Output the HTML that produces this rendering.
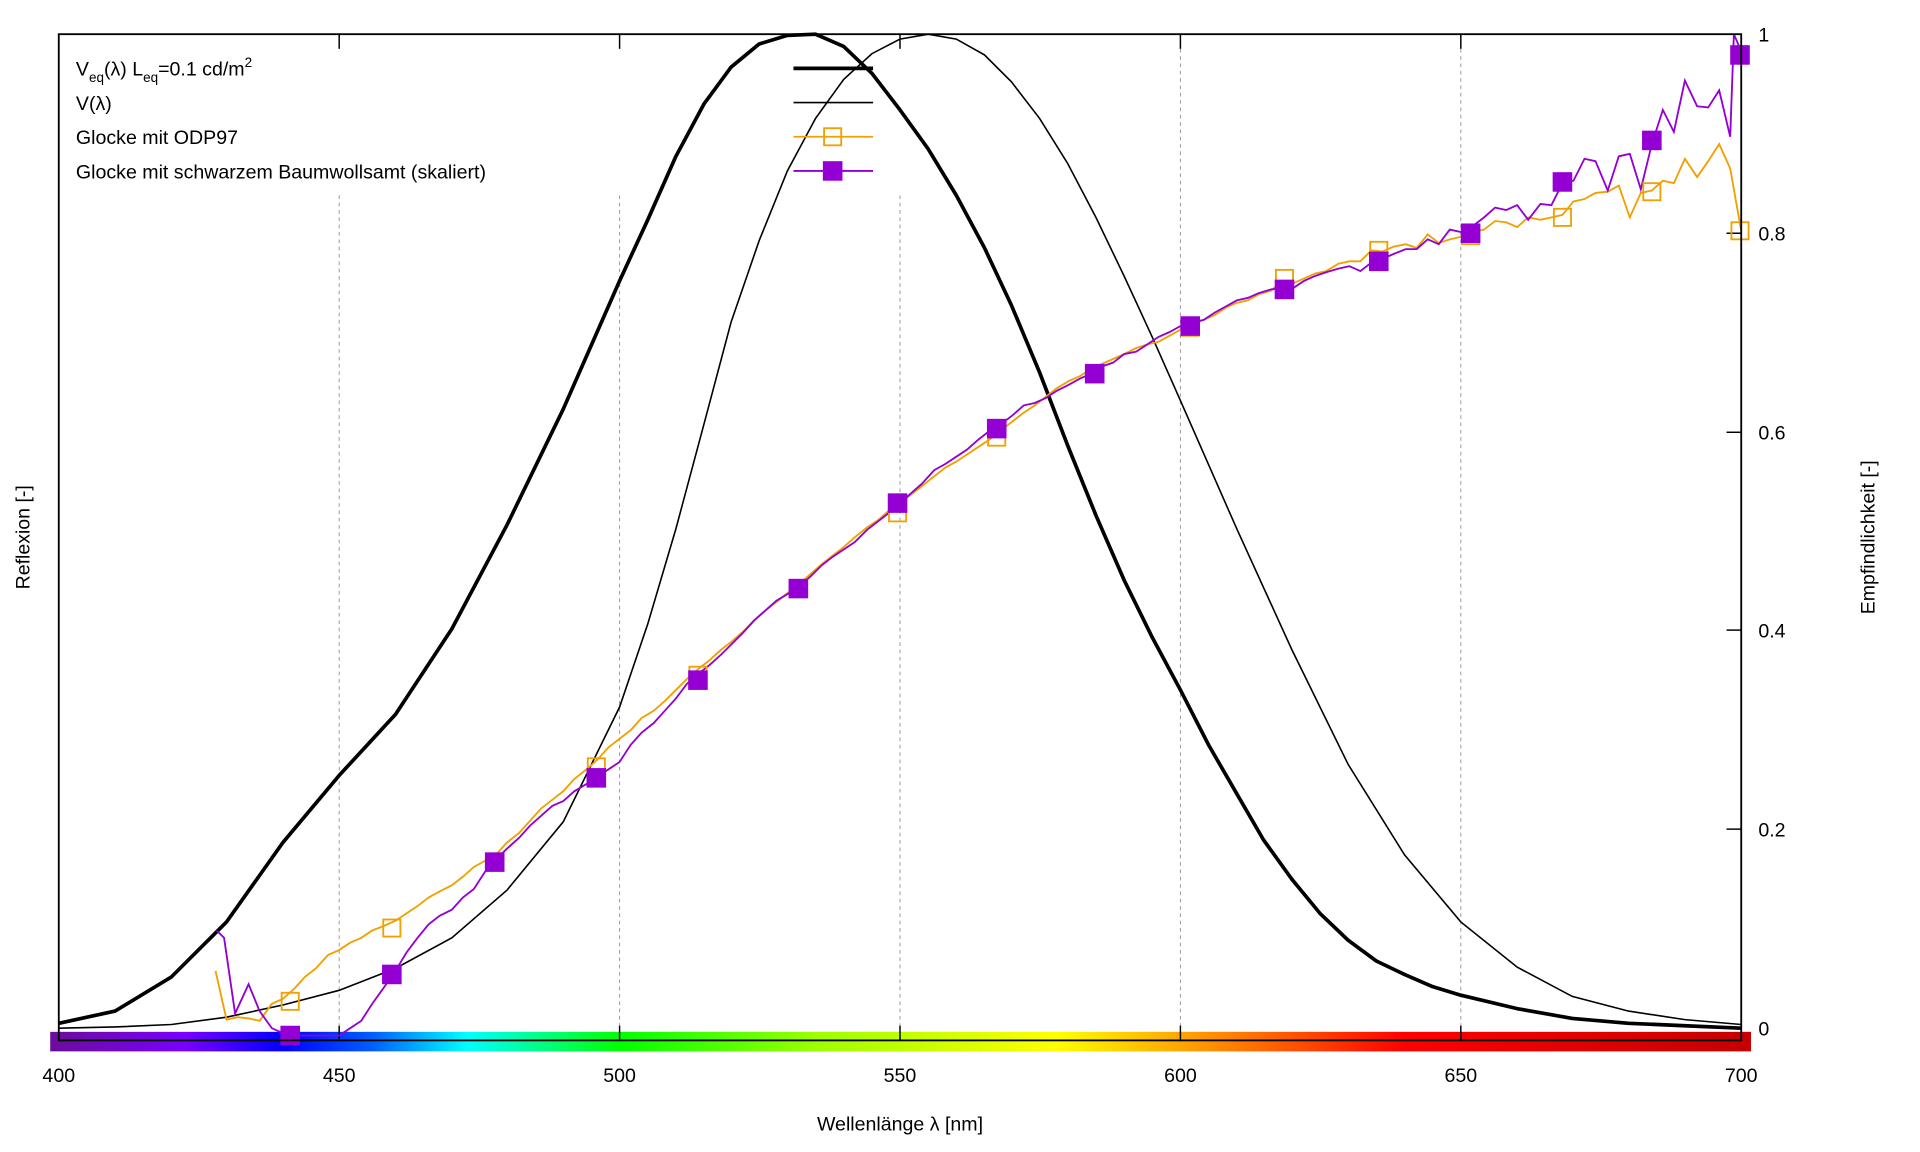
<!DOCTYPE html>
<html><head><meta charset="utf-8"><style>
html,body{margin:0;padding:0;background:#fff;}
svg{display:block;}
text{font-family:"Liberation Sans",Arial,sans-serif;fill:#000;}
</style></head><body>
<svg width="1920" height="1152" viewBox="0 0 1568 943.4" preserveAspectRatio="none" xmlns="http://www.w3.org/2000/svg">
<defs>
<linearGradient id="spec" x1="0" x2="1" y1="0" y2="0">
<stop offset="0" stop-color="#6b0d9a"/>
<stop offset="0.079" stop-color="#7a00ff"/>
<stop offset="0.137" stop-color="#0000ff"/>
<stop offset="0.19" stop-color="#0060ff"/>
<stop offset="0.245" stop-color="#00ffff"/>
<stop offset="0.335" stop-color="#00ff00"/>
<stop offset="0.45" stop-color="#9cff00"/>
<stop offset="0.592" stop-color="#ffff00"/>
<stop offset="0.665" stop-color="#ffa500"/>
<stop offset="0.796" stop-color="#ff0000"/>
<stop offset="1" stop-color="#c40000"/>
</linearGradient>
</defs>
<rect x="41" y="845" width="1389" height="16" fill="url(#spec)"/>
<!-- grid -->
<g stroke="#999" stroke-width="0.8" stroke-dasharray="3,3">
<line x1="277" y1="160" x2="277" y2="852"/>
<line x1="506" y1="160" x2="506" y2="852"/>
<line x1="735" y1="160" x2="735" y2="852"/>
<line x1="964" y1="28" x2="964" y2="852"/>
<line x1="1193" y1="28" x2="1193" y2="852"/>
</g>
<!-- ticks -->
<g stroke="#000" stroke-width="1.2">
<line x1="277" y1="28" x2="277" y2="40"/><line x1="506" y1="28" x2="506" y2="40"/><line x1="735" y1="28" x2="735" y2="40"/><line x1="964" y1="28" x2="964" y2="40"/><line x1="1193" y1="28" x2="1193" y2="40"/>
<line x1="277" y1="852" x2="277" y2="840"/><line x1="506" y1="852" x2="506" y2="840"/><line x1="735" y1="852" x2="735" y2="840"/><line x1="964" y1="852" x2="964" y2="840"/><line x1="1193" y1="852" x2="1193" y2="840"/>
<line x1="1410" y1="191" x2="1422" y2="191"/><line x1="1410" y1="354" x2="1422" y2="354"/><line x1="1410" y1="516" x2="1422" y2="516"/><line x1="1410" y1="679" x2="1422" y2="679"/>
</g>
<!-- V(λ) -->
<polyline fill="none" stroke="#000" stroke-width="1.3" points="48,842 94,841 140,839 185,833 231,823 277,811 323,793 369,768 414,729 460,673 506,579 529,511 552,433 575,347 597,264 620,197 643,140 666,97 689,65 712,44 735,32 758,28 781,32 804,45 826,67 849,97 872,134 895,178 918,226 941,276 964,328 1010,433 1055,532 1101,626 1147,700 1193,755 1239,792 1284,816 1330,828 1376,835 1422,839"/>
<!-- Veq -->
<polyline fill="none" stroke="#000" stroke-width="3" stroke-linejoin="round" points="48,838 94,828 140,800 185,755 231,690 277,635 323,585 369,515 414,430 460,335 506,230 529,180 552,128 575,85 597,55 620,36 643,29 666,28 689,38 712,60 735,90 758,122 781,160 804,203 826,250 849,305 872,365 895,422 918,475 941,522 964,565 987,610 1010,650 1032,688 1055,720 1078,748 1101,770 1124,787 1147,798 1170,808 1193,815 1239,826 1284,834 1330,838 1376,840 1422,842"/>
<!-- orange -->
<polyline fill="none" stroke="#f0a000" stroke-width="1.5" points="176,795 185,835 194,833 203,834 212,836 222,822 231,818 240,810 249,800 258,793 268,782 277,778 286,772 295,768 304,762 314,758 323,754 332,748 341,742 350,735 359,730 369,725 378,718 387,710 396,705 405,700 414,690 424,682 433,672 442,662 451,655 460,648 469,638 479,630 488,622 497,612 506,605 515,598 524,588 534,582 543,574 552,565 561,556 570,548 579,541 589,532 598,525 607,517 616,508 625,500 634,493 644,485 653,478 662,470 671,462 680,455 689,448 698,440 708,432 717,426 726,418 735,412 744,405 753,398 763,390 772,383 781,378 790,372 799,366 808,360 818,352 827,345 836,338 845,332 854,325 863,318 873,312 882,308 891,302 900,298 909,294 918,290 928,285 937,282 946,280 955,275 964,270 973,266 983,262 992,258 1001,252 1010,248 1019,246 1028,241 1038,238 1047,230 1056,232 1065,228 1074,224 1083,222 1093,216 1102,214 1111,214 1120,205 1129,206 1138,202 1148,200 1157,203 1166,192 1175,199 1184,196 1193,194 1203,190 1212,188 1221,181 1230,182 1239,186 1248,178 1258,180 1267,178 1276,176 1285,165 1294,163 1303,158 1313,157 1322,152 1331,178 1340,158 1349,156 1358,148 1367,150 1376,130 1386,145 1395,132 1404,118 1413,138 1422,189"/>
<!-- purple -->
<polyline fill="none" stroke="#9400d3" stroke-width="1.5" points="177,762 183,768 192,830 203,806 212,828 222,842 231,846 240,848 258,848 277,848 286,842 295,836 304,822 314,808 323,795 332,780 341,768 350,757 359,750 369,745 378,735 387,728 396,714 405,704 414,695 424,686 433,676 442,668 451,660 460,656 469,648 479,642 488,636 497,630 506,624 515,610 524,600 534,592 543,582 552,572 561,560 570,552 579,545 589,536 598,527 607,518 616,508 625,500 634,492 644,486 653,480 662,472 671,463 680,456 689,450 698,444 708,434 717,427 726,420 735,412 744,404 753,396 763,385 772,380 781,374 790,368 799,360 808,353 818,347 827,340 836,332 845,330 854,326 863,320 873,315 882,310 891,306 900,300 909,297 918,290 928,288 937,282 946,276 955,272 964,267 973,264 983,262 992,256 1001,251 1010,246 1019,244 1028,240 1038,237 1047,236 1056,236 1065,230 1074,226 1083,223 1093,220 1102,218 1111,222 1120,215 1129,212 1138,208 1148,204 1157,204 1166,196 1175,200 1184,188 1193,190 1203,185 1212,178 1221,170 1230,172 1239,168 1248,180 1258,167 1267,168 1276,150 1285,148 1294,130 1303,132 1313,156 1322,128 1331,126 1340,155 1349,118 1358,90 1367,108 1376,66 1386,87 1395,88 1404,74 1413,112 1416,28 1422,42"/>
<!-- orange markers -->
<g fill="none" stroke="#f0a000" stroke-width="1.5">
<rect x="230" y="813" width="14" height="14"/><rect x="313" y="753" width="14" height="14"/><rect x="397" y="699" width="14" height="14"/><rect x="480" y="621" width="14" height="14"/><rect x="563" y="546" width="14" height="14"/><rect x="645" y="475" width="14" height="14"/><rect x="726" y="413" width="14" height="14"/><rect x="807" y="351" width="14" height="14"/><rect x="887" y="299" width="14" height="14"/><rect x="965" y="261" width="14" height="14"/><rect x="1042" y="221" width="14" height="14"/><rect x="1119" y="198" width="14" height="14"/><rect x="1194" y="186" width="14" height="14"/><rect x="1269" y="171" width="14" height="14"/><rect x="1342" y="150" width="14" height="14"/><rect x="1414" y="182" width="14" height="14"/>
<rect x="673" y="105" width="14" height="14"/>
</g>
<!-- purple markers -->
<g fill="#9400d3">
<rect x="229" y="840" width="16" height="16"/><rect x="312" y="790" width="16" height="16"/><rect x="396" y="698" width="16" height="16"/><rect x="479" y="629" width="16" height="16"/><rect x="562" y="549" width="16" height="16"/><rect x="644" y="474" width="16" height="16"/><rect x="725" y="404" width="16" height="16"/><rect x="806" y="343" width="16" height="16"/><rect x="886" y="298" width="16" height="16"/><rect x="964" y="259" width="16" height="16"/><rect x="1041" y="229" width="16" height="16"/><rect x="1118" y="206" width="16" height="16"/><rect x="1193" y="183" width="16" height="16"/><rect x="1268" y="141" width="16" height="16"/><rect x="1341" y="107" width="16" height="16"/><rect x="1413" y="37" width="16" height="16"/>
<rect x="672" y="132" width="16" height="16"/>
</g>
<!-- legend -->
<line x1="648" y1="56" x2="713" y2="56" stroke="#000" stroke-width="3"/>
<line x1="648" y1="84" x2="713" y2="84" stroke="#000" stroke-width="1.3"/>
<line x1="648" y1="112" x2="713" y2="112" stroke="#f0a000" stroke-width="1.5"/>
<line x1="648" y1="140" x2="713" y2="140" stroke="#9400d3" stroke-width="1.5"/>
<g font-size="16">
<text x="62" y="62">V<tspan font-size="11" dy="5">eq</tspan><tspan dy="-5">(λ) L</tspan><tspan font-size="11" dy="5">eq</tspan><tspan dy="-5">=0.1 cd/m</tspan><tspan font-size="11" dy="-7">2</tspan></text>
<text x="62" y="90">V(λ)</text>
<text x="62" y="118">Glocke mit ODP97</text>
<text x="62" y="146">Glocke mit schwarzem Baumwollsamt (skaliert)</text>
</g>
<!-- frame -->
<rect x="48" y="28" width="1374" height="824" fill="none" stroke="#000" stroke-width="1.5"/>
<!-- labels -->
<g font-size="16">
<text x="48" y="886" text-anchor="middle">400</text>
<text x="277" y="886" text-anchor="middle">450</text>
<text x="506" y="886" text-anchor="middle">500</text>
<text x="735" y="886" text-anchor="middle">550</text>
<text x="964" y="886" text-anchor="middle">600</text>
<text x="1193" y="886" text-anchor="middle">650</text>
<text x="1422" y="886" text-anchor="middle">700</text>
<text x="1436" y="848">0</text>
<text x="1436" y="685">0.2</text>
<text x="1436" y="522">0.4</text>
<text x="1436" y="360">0.6</text>
<text x="1436" y="197">0.8</text>
<text x="1436" y="34">1</text>
<text x="735" y="926" text-anchor="middle">Wellenlänge λ [nm]</text>
<text transform="translate(24,440) rotate(-90)" text-anchor="middle">Reflexion [-]</text>
<text transform="translate(1531,440) rotate(-90)" text-anchor="middle">Empfindlichkeit [-]</text>
</g>
</svg>
</body></html>
